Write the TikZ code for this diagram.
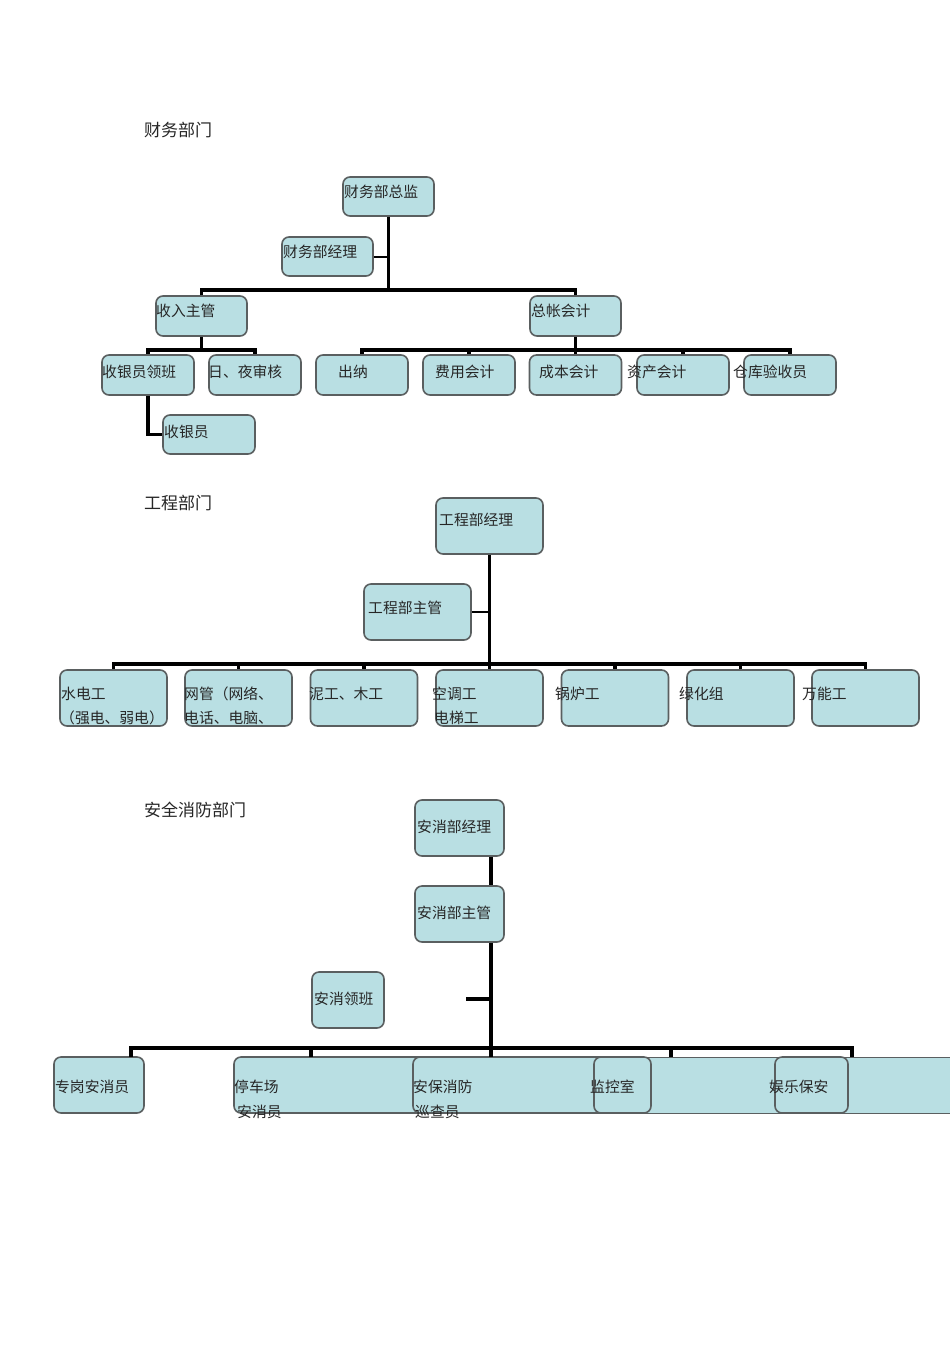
\documentclass[tikz,border=0pt]{standalone}
\usepackage{fontspec}
\newfontfamily\cjk{Noto Sans CJK SC}
\begin{document}
\begin{tikzpicture}[x=1pt,y=-1pt,
  box/.style={draw=boxline,fill=boxfill,line width=1.6pt,rounded corners=7pt,inner sep=0pt},
  txt/.style={anchor=west,inner sep=0pt,font=\cjk\fontsize{14.8}{16}\selectfont,text=textc},
  head/.style={anchor=west,inner sep=0pt,font=\cjk\fontsize{17}{18}\selectfont,text=textc},
  conn/.style={line width=3.3pt,black},
  thinconn/.style={line width=2pt,black}]
\definecolor{boxfill}{HTML}{B9DFE3}
\definecolor{boxline}{HTML}{5A5F60}
\definecolor{textc}{HTML}{262626}
\useasboundingbox (0,0) rectangle (950,1345);
\fill[white] (0,0) rectangle (950,1345);

% ================= Finance =================
\node[head] (h1) at (144,130) {财务部门};
\coordinate (fb1) at (0,290);
\coordinate (fb2) at (0,350);
\node[box,minimum width=91pt,minimum height=39pt] (zj) at (388.5,196.5) {};
\node[box,minimum width=91pt,minimum height=39pt] (jl) at (327.5,256.5) {};
\node[box,minimum width=91pt,minimum height=40pt] (sr) at (201.5,316) {};
\node[box,minimum width=91pt,minimum height=40pt] (zz) at (575.5,316) {};
\node[box,minimum width=92pt,minimum height=40pt] (lb) at (148,375) {};
\node[box,minimum width=92pt,minimum height=40pt] (sh) at (255,375) {};
\node[box,minimum width=92pt,minimum height=39pt] (syy) at (209,434.5) {};
\node[box,minimum width=92pt,minimum height=40pt] (cn) at (362,375) {};
\node[box,minimum width=92pt,minimum height=40pt] (fy) at (469,375) {};
\node[box,minimum width=92pt,minimum height=40pt] (cb) at (575.5,375) {};
\node[box,minimum width=92pt,minimum height=40pt] (zc) at (683,375) {};
\node[box,minimum width=92pt,minimum height=40pt] (ck) at (790,375) {};

\draw[conn] (zj.south) -- (zj.south |- fb1);
\draw[thinconn] (jl.east) -- (jl.east -| zj.south);
\draw[conn] (sr.north) |- (zz.north |- fb1) -- (zz.north);
\draw[conn] (sr.south) -- (sr.south |- fb2);
\draw[conn] (lb.north) |- (sh.north |- fb2) -- (sh.north);
\draw[conn] (lb.south) |- (syy.west);
\draw[conn] (zz.south) -- (zz.south |- fb2);
\draw[conn] (cn.north) |- (ck.north |- fb2) -- (ck.north);
\draw[conn] (fy.north) -- (fy.north |- fb2);
\draw[conn] (cb.north) -- (cb.north |- fb2);
\draw[conn] (zc.north) -- (zc.north |- fb2);

\node[txt] (t-zj) at (344,192) {财务部总监};
\node[txt] (t-jl) at (283,252) {财务部经理};
\node[txt] (t-sr) at (156,311) {收入主管};
\node[txt] (t-zz) at (531,311) {总帐会计};
\node[txt] (t-lb) at (102,372) {收银员领班};
\node[txt] (t-sh) at (208,372) {日、夜审核};
\node[txt] (t-syy) at (164,432) {收银员};
\node[txt] (t-cn) at (338,372) {出纳};
\node[txt] (t-fy) at (435,372) {费用会计};
\node[txt] (t-cb) at (539,372) {成本会计};
\node[txt] (t-zc) at (627,372) {资产会计};
\node[txt] (t-ck) at (733,372) {仓库验收员};

% ================= Engineering =================
\node[head] (h2) at (144,503) {工程部门};
\coordinate (eb) at (0,664);
\node[box,minimum width=107pt,minimum height=56pt] (gj) at (489.5,526) {};
\node[box,minimum width=107pt,minimum height=56pt] (gz) at (417.5,612) {};
\node[box,minimum width=107pt,minimum height=56pt] (e1) at (113.5,698) {};
\node[box,minimum width=107pt,minimum height=56pt] (e2) at (238.5,698) {};
\node[box,minimum width=107pt,minimum height=56pt] (e3) at (364,698) {};
\node[box,minimum width=107pt,minimum height=56pt] (e4) at (489.5,698) {};
\node[box,minimum width=107pt,minimum height=56pt] (e5) at (615,698) {};
\node[box,minimum width=107pt,minimum height=56pt] (e6) at (740.5,698) {};
\node[box,minimum width=107pt,minimum height=56pt] (e7) at (865.5,698) {};

\draw[conn] (gj.south) -- (gj.south |- eb);
\draw[thinconn] (gz.east) -- (gz.east -| gj.south);
\draw[conn] (e1.north) |- (e7.north |- eb) -- (e7.north);
\foreach \n in {e2,e3,e4,e5,e6}{\draw[conn] (\n.north) -- (\n.north |- eb);}

\node[txt] (t-gj) at (439,520) {工程部经理};
\node[txt] (t-gz) at (368,608) {工程部主管};
\node[txt] (t-e1a) at (61,694) {水电工};
\node[txt] (t-e1b) at (60,718) {（强电、弱电）};
\node[txt] (t-e2a) at (184,694) {网管（网络、};
\node[txt] (t-e2b) at (184,718) {电话、电脑、};
\node[txt] (t-e3) at (309,694) {泥工、木工};
\node[txt] (t-e4a) at (432,694) {空调工};
\node[txt] (t-e4b) at (434,718) {电梯工};
\node[txt] (t-e5) at (555,694) {锅炉工};
\node[txt] (t-e6) at (679,694) {绿化组};
\node[txt] (t-e7) at (802,694) {万能工};

% ================= Safety =================
\node[head] (h3) at (144,810) {安全消防部门};
\coordinate (sv) at (491,0);
\coordinate (sb) at (0,1048);
\coordinate (stub) at (466,999);
\node[box,minimum width=89pt,minimum height=56pt] (aj) at (459.5,828) {};
\node[box,minimum width=89pt,minimum height=56pt] (az) at (459.5,914) {};
\node[box,minimum width=72pt,minimum height=56pt] (alb) at (348,1000) {};

% wide strip at the right of the bottom row
\fill[boxfill] (640,1057) rectangle (950,1113);
\draw[boxline,line width=1pt] (640,1057) -- (950,1057) (640,1113) -- (950,1113);
\node[box,minimum width=90pt,minimum height=56pt] (s1) at (99,1085) {};
\node[box,minimum width=196pt,minimum height=56pt] (s2) at (332,1085) {};
\node[box,minimum width=207pt,minimum height=56pt] (s3) at (516.5,1085) {};
\node[box,minimum width=57pt,minimum height=56pt] (s4) at (622.5,1085) {};
\node[box,minimum width=73pt,minimum height=56pt] (s5) at (811.5,1085) {};
\coordinate (d1) at (131,1057);
\coordinate (d2) at (311,1057);
\coordinate (d3) at (491,1057);
\coordinate (d4) at (671,1057);
\coordinate (d5) at (852,1057);

\draw[conn] (aj.south -| sv) -- (az.north -| sv);
\draw[conn] (az.south -| sv) -- (sv |- sb);
\draw[conn] (stub) -- (stub -| sv);
\draw[conn] (d1) |- (d5 |- sb) -- (d5);
\foreach \n in {d2,d3,d4}{\draw[conn] (\n) -- (\n |- sb);}

\node[txt] (t-aj) at (417,827) {安消部经理};
\node[txt] (t-az) at (417,913) {安消部主管};
\node[txt] (t-alb) at (314,999) {安消领班};
\node[txt] (t-s1) at (55,1087) {专岗安消员};
\node[txt] (t-s2a) at (234,1087) {停车场};
\node[txt] (t-s2b) at (237,1112) {安消员};
\node[txt] (t-s3a) at (413,1087) {安保消防};
\node[txt] (t-s3b) at (415,1112) {巡查员};
\node[txt] (t-s4) at (590,1087) {监控室};
\node[txt] (t-s5) at (769,1087) {娱乐保安};
\end{tikzpicture}
\end{document}
